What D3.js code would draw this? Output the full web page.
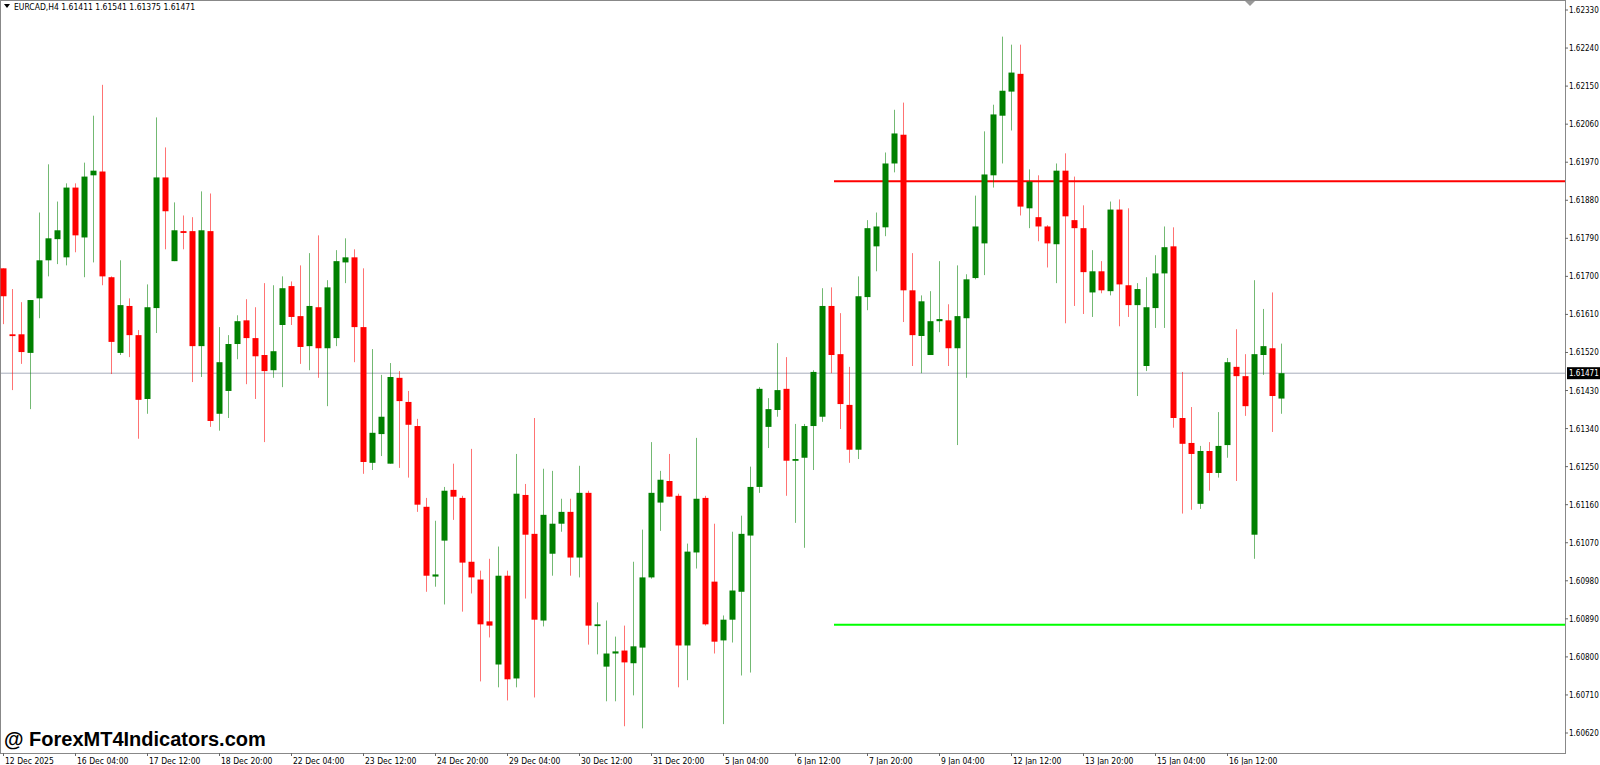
<!DOCTYPE html>
<html>
<head>
<meta charset="utf-8">
<script src="https://cdn.jsdelivr.net/npm/d3@7"></script>
<style>
body { margin:0; background:#fff; }
svg text { font-family: "DejaVu Sans Condensed", "DejaVu Sans", sans-serif; }
</style>
</head>
<body>
<svg id="chart" width="1600" height="765"></svg>
<script>
// EURCAD H4 candles, oldest first
var opens = [1.61719,1.61563,1.61563,1.61519,1.61648,1.61738,1.61788,1.61745,1.61910,1.61792,
1.61939,1.61948,1.61698,1.61519,1.61630,1.61561,1.61410,1.61625,1.61934,1.61736,
1.61807,1.61807,1.61535,1.61807,1.61375,1.61429,1.61540,1.61596,1.61554,1.61514,
1.61478,1.61585,1.61677,1.61606,1.61535,1.61627,1.61530,1.61554,1.61733,1.61745,
1.61580,1.61259,1.61327,1.61257,1.61460,1.61403,1.61346,1.61155,1.60990,1.61075,
1.61195,1.61176,1.61025,1.60983,1.60884,1.60782,1.60992,1.60749,1.61183,1.61091,
1.60886,1.61044,1.61115,1.61143,1.61035,1.61188,1.60874,1.60777,1.60808,1.60815,
1.60785,1.60822,1.60988,1.61165,1.61216,1.61181,1.60827,1.61047,1.61176,1.60978,
1.60839,1.60888,1.60954,1.61087,1.61202,1.61344,1.61384,1.61434,1.61264,1.61271,
1.61346,1.61368,1.61630,1.61516,1.61396,1.61290,1.61651,1.61771,1.61816,1.61967,
1.62035,1.61667,1.61559,1.61514,1.61594,1.61596,1.61530,1.61601,1.61696,1.61778,
1.61939,1.62080,1.62137,1.62179,1.61861,1.61840,1.61818,1.61776,1.61950,1.61833,
1.61814,1.61662,1.61712,1.61665,1.61858,1.61679,1.61632,1.61488,1.61625,1.61707,
1.61771,1.61365,1.61306,1.61162,1.61287,1.61235,1.61301,1.61486,1.61464,1.61089,
1.61514,1.61530,1.61411];
var highs = [1.61719,1.61670,1.61639,1.61644,1.61851,1.61965,1.61877,1.61920,1.61920,1.61969,
1.62080,1.62153,1.61700,1.61738,1.61648,1.61573,1.61681,1.62076,1.62005,1.61875,
1.61844,1.61840,1.61901,1.61896,1.61580,1.61561,1.61608,1.61646,1.61627,1.61684,
1.61679,1.61700,1.61688,1.61726,1.61755,1.61797,1.61691,1.61762,1.61790,1.61764,
1.61719,1.61528,1.61467,1.61495,1.61476,1.61429,1.61363,1.61176,1.61122,1.61202,
1.61257,1.61181,1.61292,1.61004,1.61032,1.61061,1.61004,1.61280,1.61209,1.61365,
1.61245,1.61240,1.61174,1.61174,1.61252,1.61193,1.60929,1.60886,1.60848,1.60874,
1.61025,1.61101,1.61308,1.61240,1.61280,1.61186,1.61068,1.61318,1.61181,1.61115,
1.60898,1.61096,1.61134,1.61250,1.61438,1.61412,1.61542,1.61509,1.61351,1.61351,
1.61478,1.61672,1.61674,1.61613,1.61486,1.61700,1.61833,1.61851,1.61993,1.62094,
1.62111,1.61755,1.61655,1.61665,1.61736,1.61634,1.61726,1.61705,1.61891,1.62043,
1.62106,1.62267,1.62248,1.62248,1.61953,1.61939,1.61821,1.61967,1.61991,1.61936,
1.61868,1.61762,1.61736,1.61877,1.61882,1.61861,1.61684,1.61698,1.61750,1.61818,
1.61816,1.61474,1.61391,1.61299,1.61308,1.61379,1.61507,1.61575,1.61516,1.61691,
1.61623,1.61662,1.61541];
var lows = [1.61587,1.61431,1.61493,1.61386,1.61601,1.61700,1.61729,1.61726,1.61757,1.61698,
1.61733,1.61679,1.61469,1.61514,1.61509,1.61316,1.61375,1.61566,1.61764,1.61736,
1.61764,1.61450,1.61462,1.61344,1.61335,1.61365,1.61504,1.61445,1.61410,1.61308,
1.61460,1.61438,1.61585,1.61493,1.61478,1.61460,1.61393,1.61535,1.61684,1.61497,
1.61233,1.61242,1.61275,1.61257,1.61247,1.61224,1.61143,1.60954,1.60966,1.60924,
1.61124,1.60907,1.60950,1.60742,1.60846,1.60728,1.60697,1.60728,1.60938,1.60704,
1.60872,1.60992,1.61096,1.60992,1.60988,1.60829,1.60806,1.60695,1.60695,1.60636,
1.60709,1.60631,1.60985,1.61098,1.61179,1.60728,1.60745,1.61009,1.60874,1.60808,
1.60641,1.60834,1.60756,1.60763,1.61188,1.61294,1.61368,1.61181,1.61117,1.61058,
1.61242,1.61356,1.61471,1.61339,1.61259,1.61268,1.61620,1.61712,1.61795,1.61946,
1.61592,1.61488,1.61471,1.61514,1.61568,1.61488,1.61301,1.61460,1.61693,1.61703,
1.61910,1.61967,1.62045,1.61844,1.61814,1.61783,1.61721,1.61684,1.61589,1.61630,
1.61611,1.61604,1.61660,1.61655,1.61582,1.61604,1.61417,1.61476,1.61578,1.61578,
1.61342,1.61139,1.61148,1.61150,1.61193,1.61224,1.61271,1.61216,1.61370,1.61032,
1.61467,1.61332,1.61375];
var closes = [1.61653,1.61561,1.61521,1.61644,1.61738,1.61790,1.61809,1.61910,1.61797,1.61936,
1.61950,1.61700,1.61545,1.61632,1.61561,1.61408,1.61627,1.61934,1.61854,1.61809,
1.61804,1.61535,1.61809,1.61358,1.61497,1.61540,1.61594,1.61554,1.61511,1.61476,
1.61523,1.61672,1.61604,1.61533,1.61630,1.61530,1.61674,1.61736,1.61745,1.61580,
1.61261,1.61330,1.61368,1.61462,1.61405,1.61349,1.61160,1.60992,1.60995,1.61193,
1.61179,1.61023,1.60988,1.60877,1.60874,1.60992,1.60747,1.61186,1.61089,1.60888,
1.61136,1.61115,1.61143,1.61035,1.61188,1.60874,1.60877,1.60808,1.60813,1.60787,
1.60825,1.60988,1.61188,1.61219,1.61179,1.60827,1.61049,1.61174,1.60877,1.60836,
1.60888,1.60957,1.61091,1.61202,1.61434,1.61386,1.61431,1.61264,1.61268,1.61346,
1.61474,1.61630,1.61514,1.61398,1.61290,1.61653,1.61814,1.61818,1.61967,1.62038,
1.61667,1.61561,1.61641,1.61594,1.61599,1.61530,1.61606,1.61693,1.61818,1.61941,
1.62083,1.62139,1.62182,1.61865,1.61924,1.61818,1.61778,1.61950,1.61842,1.61814,
1.61710,1.61712,1.61667,1.61858,1.61681,1.61632,1.61670,1.61627,1.61707,1.61769,
1.61365,1.61304,1.61280,1.61287,1.61235,1.61299,1.61497,1.61464,1.61393,1.61516,
1.61535,1.61417,1.61471];

var dateLabels = ["12 Dec 2025","16 Dec 04:00","17 Dec 12:00","18 Dec 20:00","22 Dec 04:00","23 Dec 12:00",
  "24 Dec 20:00","29 Dec 04:00","30 Dec 12:00","31 Dec 20:00","5 Jan 04:00","6 Jan 12:00",
  "7 Jan 20:00","9 Jan 04:00","12 Jan 12:00","13 Jan 20:00","15 Jan 04:00","16 Jan 12:00"];
var labelEvery = 8;
var priceTicks = d3.range(0, 20).map(function(i) { return +(1.60620 + i * 0.0009).toFixed(5); });

var resistance = 1.61925, support = 1.60876, levelStartBar = 92.3;
var currentPrice = 1.61471;

var svg = d3.select("#chart");
var W = 1565, H = 753;

var x = d3.scaleLinear().domain([0, 142]).range([3.3, 3.3 + 142 * 9]);
var y = d3.scaleLinear().domain([1.60620, 1.62330]).range([733, 10]);

var red = "#ff0000", green = "#008000";

// frame
svg.append("rect").attr("x", 0.5).attr("y", 0.5).attr("width", W).attr("height", H)
    .attr("fill", "none").attr("stroke", "#888").attr("stroke-width", 1);

// current price line
svg.append("line").attr("x1", 1).attr("x2", W).attr("y1", y(currentPrice)).attr("y2", y(currentPrice))
    .attr("stroke", "#a7adbb").attr("stroke-width", 1);

// level lines
svg.append("line").attr("x1", x(levelStartBar)).attr("x2", W).attr("y1", y(resistance)).attr("y2", y(resistance))
    .attr("stroke", "#ff0000").attr("stroke-width", 2);
svg.append("line").attr("x1", x(levelStartBar)).attr("x2", W).attr("y1", y(support)).attr("y2", y(support))
    .attr("stroke", "#00ff00").attr("stroke-width", 2);

var candles = opens.map(function(o, i) {
    return {i: i, o: o, h: highs[i], l: lows[i], c: closes[i]};
});

var g = svg.append("g");
g.selectAll("line.wick").data(candles).enter().append("line")
    .attr("class", "wick")
    .attr("x1", function(d) { return Math.round(x(d.i)) + 0.5; })
    .attr("x2", function(d) { return Math.round(x(d.i)) + 0.5; })
    .attr("y1", function(d) { return y(d.h); })
    .attr("y2", function(d) { return y(d.l); })
    .attr("stroke", function(d) { return d.c >= d.o ? green : red; })
    .attr("stroke-opacity", 0.55)
    .attr("stroke-width", 1);

g.selectAll("rect.body").data(candles).enter().append("rect")
    .attr("class", "body")
    .attr("x", function(d) { return Math.round(x(d.i)) - 2.5; })
    .attr("width", 6)
    .attr("y", function(d) { return y(Math.max(d.o, d.c)); })
    .attr("height", function(d) { return Math.max(1.8, Math.abs(y(d.o) - y(d.c))); })
    .attr("fill", function(d) { return d.c >= d.o ? green : red; });

// price axis
svg.selectAll("text.price").data(priceTicks).enter().append("text")
    .attr("x", W + 4).attr("y", function(d) { return y(d) + 3; })
    .attr("font-size", 8).attr("fill", "#000")
    .text(function(d) { return d.toFixed(5); });
svg.selectAll("line.ptick").data(priceTicks).enter().append("line")
    .attr("x1", W).attr("x2", W + 3).attr("y1", function(d) { return y(d); }).attr("y2", function(d) { return y(d); })
    .attr("stroke", "#666");

// current price tag
svg.append("rect").attr("x", W + 2).attr("y", y(currentPrice) - 6).attr("width", 33).attr("height", 12).attr("fill", "#000");
svg.append("text").attr("x", W + 4).attr("y", y(currentPrice) + 3).attr("font-size", 8)
    .attr("fill", "#fff").text(currentPrice.toFixed(5));

// time axis
dateLabels.forEach(function(t, k) {
    var px = Math.round(x(k * labelEvery));
    svg.append("line").attr("x1", px + 0.5).attr("x2", px + 0.5).attr("y1", H).attr("y2", H + 3).attr("stroke", "#666");
    svg.append("text").attr("x", px + 2).attr("y", H + 10.5).attr("font-size", 8.5).text(t);
});

// header
svg.append("path").attr("d", "M4,4 L10,4 L7,8 Z").attr("fill", "#000");
svg.append("text").attr("x", 14).attr("y", 10).attr("font-size", 8.5)
    .text("EURCAD,H4  1.61411 1.61541 1.61375 1.61471");
svg.append("path").attr("d", "M1245,1 L1255,1 L1250,6 Z").attr("fill", "#999");

// watermark
svg.append("text").attr("x", 4).attr("y", 746)
    .style("font-family", "'Liberation Sans', Arial, sans-serif")
    .attr("font-size", 20).attr("font-weight", "bold").attr("fill", "#000")
    .text("@ ForexMT4Indicators.com");
</script>
</body>
</html>
